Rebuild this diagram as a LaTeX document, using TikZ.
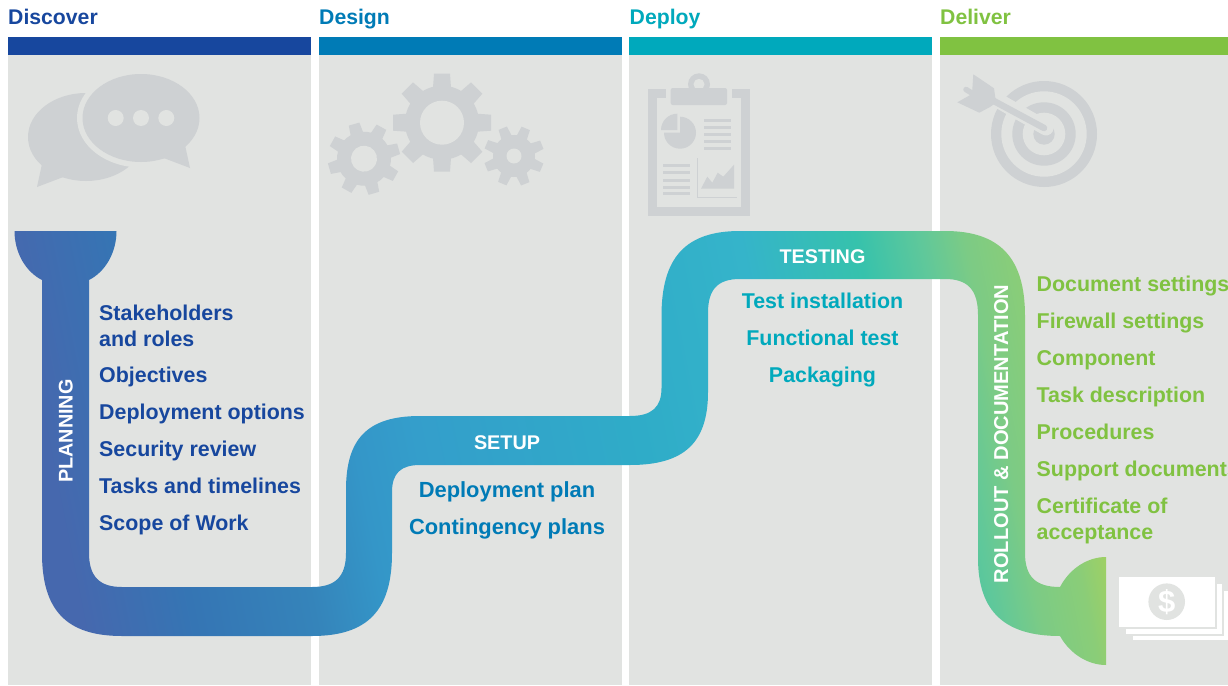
\documentclass[tikz,border=0pt]{standalone}
\usepackage{fontspec}
\setmainfont{Liberation Sans}
\definecolor{cdisc}{HTML}{17479E}
\definecolor{cdes}{HTML}{007BB6}
\definecolor{cdep}{HTML}{00A9BC}
\definecolor{cdel}{HTML}{80C241}
\definecolor{panelbg}{HTML}{E1E3E1}
\definecolor{icon}{HTML}{CED1D3}
\definecolor{ra}{HTML}{4668AE}
\definecolor{rc}{HTML}{3575B4}
\definecolor{rd}{HTML}{3584BA}
\definecolor{re}{HTML}{3496C8}
\definecolor{rf}{HTML}{349ECB}
\definecolor{rg}{HTML}{2FACC8}
\definecolor{rh}{HTML}{35B4CA}
\definecolor{ri}{HTML}{36C2AC}
\definecolor{rj}{HTML}{60C89A}
\definecolor{rk}{HTML}{7CCB85}
\definecolor{rl}{HTML}{8ACD78}
\definecolor{rm}{HTML}{9ED065}
\pgfdeclarehorizontalshading{ribbon}{100bp}{
color(0bp)=(ra);
color(36.95bp)=(ra);
color(39.84bp)=(rc);
color(43.0bp)=(rd);
color(44.89bp)=(re);
color(46.53bp)=(rf);
color(52.32bp)=(rg);
color(55.92bp)=(rh);
color(58.9bp)=(ri);
color(60.6bp)=(rj);
color(61.71bp)=(rk);
color(62.95bp)=(rl);
color(63.68bp)=(rm);
color(100bp)=(rm)}
\tikzset{
 head/.style={anchor=base west,inner sep=0pt,font=\bfseries\fontsize{21.2}{24}\selectfont},
 item/.style={anchor=base west,inner sep=0pt,font=\bfseries\fontsize{21.4}{24}\selectfont},
 citem/.style={anchor=base,inner sep=0pt,font=\bfseries\fontsize{21.4}{24}\selectfont},
 ditem/.style={anchor=base,inner sep=0pt,font=\bfseries\fontsize{21.9}{24}\selectfont},
 ribbontext/.style={inner sep=0pt,text=white,font=\bfseries\fontsize{19.8}{24}\selectfont},
 panel/.style={fill=panelbg,draw=none},
 ico/.style={fill=icon,draw=none},
 halo/.style={fill=panelbg,draw=none},
}
\newcommand{\gearicon}[6]{% x,y,hole,body,outer,toothwidth ; rotation via \gearrot
 \begin{scope}[shift={(#1,#2)},rotate=\gearrot]
  \fill[ico] (0,0) circle (#4);
  \foreach \a in {0,45,...,315}{
   \fill[ico,rotate=\a] (#4-2,-#6/2-1) -- (#5,-#6/2) -- (#5,#6/2) -- (#4-2,#6/2+1) -- cycle;
  }
  \fill[halo] (0,0) circle (#3);
 \end{scope}}
\begin{document}
\begin{tikzpicture}[x=1pt,y=-1pt]
\useasboundingbox (0,0) rectangle (1228,685);
\clip (0,0) rectangle (1228,685);
\fill[white] (0,0) rectangle (1228,685);
% panels
\fill[panel] (8,55) rectangle (311,685);
\fill[panel] (319,55) rectangle (622,685);
\fill[panel] (629,55) rectangle (932,685);
\fill[panel] (940,55) rectangle (1228,685);
\fill[cdisc] (8,37) rectangle (311,55);
\fill[cdes] (319,37) rectangle (622,55);
\fill[cdep] (629,37) rectangle (932,55);
\fill[cdel] (940,37) rectangle (1228,55);
% headers
\node[head,text=cdisc] (h1) at (8,25) {Discover};
\node[head,text=cdes] (h2) at (319,25) {Design};
\node[head,text=cdep] (h3) at (629.5,25) {Deploy};
\node[head,text=cdel] (h4) at (940,25) {Deliver};
% speech bubbles
\fill[ico] (86,137) ellipse (58 and 44);
\fill[ico] (42,164) -- (37,187) -- (66,176) -- cycle;
\fill[halo] (141,118) ellipse (64 and 49.5);
\fill[ico] (141,118) ellipse (58.5 and 44);
\fill[ico] (185,145) -- (190,168) -- (161,157) -- cycle;
\fill[halo] (115.7,118) circle (8);
\fill[halo] (141,118) circle (8);
\fill[halo] (166.3,118) circle (8);
% gears
\def\gearrot{0}\gearicon{442}{122.7}{22}{37}{49}{16}
\def\gearrot{16}\gearicon{364}{158.7}{13}{27}{36}{11}
\def\gearrot{22}\gearicon{514}{156}{7.5}{21}{30}{9}
% clipboard
\fill[ico] (647.7,89) rectangle (750,216);
\fill[halo] (656.7,98.3) rectangle (740.7,206.7);
\fill[halo] (665.7,85) rectangle (731.7,99);
\fill[ico] (699,84.3) circle (11);
\fill[halo] (699,84.3) circle (5.5);
\fill[ico,rounded corners=2pt] (670.7,88) rectangle (727,105);
\fill[ico] (680,132.7) -- (680,116.7) arc[start angle=-90,end angle=180,radius=16] -- cycle;
\fill[ico] (677.3,130) -- (661,130) arc[start angle=180,end angle=270,radius=16.3] -- cycle;
\foreach \yy in {120.3,127.3,134.3,141.3,148.3}{\fill[ico] (704,\yy-1.5) rectangle (731,\yy+1.5);}
\foreach \yy in {165.3,172.3,180.3,187.3,193.3}{\fill[ico] (663,\yy-1.5) rectangle (690,\yy+1.5);}
\fill[ico] (697.2,158) rectangle (698.4,197.8);
\fill[ico] (697.2,196.6) rectangle (737,197.8);
\fill[ico] (701,188.7) -- (707.3,176.7) -- (712.3,182.7) -- (717.7,172.7) -- (723.3,176.7) -- (734,164.7) -- (734,188.7) -- cycle;
% target
\fill[ico] (1044,134) circle (53);
\fill[halo] (1044,134) circle (42.7);
\fill[ico] (1044,134) circle (31.7);
\fill[halo] (1044,134) circle (21.3);
\fill[ico] (1044,134) circle (10.7);
\draw[panelbg,line width=15pt,line cap=round] (1046,128) -- (990,96);
\draw[icon,line width=6.5pt,line cap=round] (1044,128) -- (992,100);
\fill[ico] (973.3,74.3) -- (994,88.3) -- (996,102.7) -- (990,107) -- (979.3,112.7) -- (957.3,102.3) -- (972,94) -- cycle;
\draw[icon,line width=5.5pt,line cap=round] (966,89.5) -- (975,95);
% money
\fill[white] (1133.3,590.7) rectangle (1240,640.3);
\fill[halo] (1124,582) rectangle (1223.7,636);
\fill[white] (1126.3,584) rectangle (1221.7,634);
\fill[halo] (1117,574) rectangle (1216.7,629);
\fill[white] (1119.3,576.7) rectangle (1215,626.7);
\fill[halo] (1166.7,601.7) circle (18.3);
\node[inner sep=0pt,text=white,font=\bfseries\fontsize{31}{34}\selectfont] (dollar) at (1166.7,601.7) {\$};
% ribbon
\begin{scope}
\clip
 (14.5,231) -- (116.5,231)
 .. controls (116.5,253) and (105,272) .. (89,280)
 -- (89,553)
 .. controls (89,577) and (100,587) .. (122,587)
 -- (312,587)
 .. controls (335,587) and (346,577) .. (346,553)
 -- (346,490)
 .. controls (346,440) and (366,416) .. (420,416)
 -- (630,416)
 .. controls (652,416) and (661.5,407) .. (661.5,388)
 -- (661.5,316)
 .. controls (661.5,258) and (685,231) .. (740,231)
 -- (945,231)
 .. controls (1000,231) and (1025,258) .. (1025,316)
 -- (1025,553)
 .. controls (1025,577) and (1036,587) .. (1060,587)
 .. controls (1070,568) and (1088,557) .. (1106,557)
 -- (1106,665)
 .. controls (1088,665) and (1070,654) .. (1060,636)
 .. controls (1005,636) and (978,612) .. (978,558)
 -- (978,315)
 .. controls (978,290) and (968,279) .. (945,279)
 -- (740,279)
 .. controls (717,279) and (708,290) .. (708,313)
 -- (708,392)
 .. controls (708,442) and (685,465) .. (630,465)
 -- (420,465)
 .. controls (401,465) and (392,473) .. (392,492)
 -- (392,553)
 .. controls (392,610) and (368,636) .. (312,636)
 -- (122,636)
 .. controls (66,636) and (42,610) .. (42,553)
 -- (42,280)
 .. controls (26,272) and (14.5,253) .. (14.5,231)
 -- cycle;
\path[shading=ribbon,shading angle=0,transform canvas={rotate around={11.3:(600,430)}}] (-400,-600) rectangle (1500,1400);
\end{scope}
% ribbon labels
\node[ribbontext,rotate=90,anchor=base] (planning) at (72.5,431) {PLANNING};
\node[ribbontext,anchor=base] (setup) at (507,449) {SETUP};
\node[ribbontext,anchor=base] (testing) at (822.5,263) {TESTING};
\node[ribbontext,rotate=90,anchor=base,font=\bfseries\fontsize{20.1}{24}\selectfont] (rollout) at (1008,434) {ROLLOUT \& DOCUMENTATION};
% discover items
\node[item,text=cdisc] (d1) at (99,320) {Stakeholders};
\node[item,text=cdisc] (d2) at (99,346) {and roles};
\node[item,text=cdisc] (d3) at (99,382) {Objectives};
\node[item,text=cdisc] (d4) at (99,419) {Deployment options};
\node[item,text=cdisc] (d5) at (99,456) {Security review};
\node[item,text=cdisc] (d6) at (99,493) {Tasks and timelines};
\node[item,text=cdisc] (d7) at (99,530) {Scope of Work};
% design items
\node[ditem,text=cdes] (e1) at (507,497) {Deployment plan};
\node[ditem,text=cdes] (e2) at (507,534) {Contingency plans};
% deploy items
\node[citem,text=cdep] (p1) at (822.5,308) {Test installation};
\node[citem,text=cdep] (p2) at (822.5,345) {Functional test};
\node[citem,text=cdep] (p3) at (822.5,382) {Packaging};
% deliver items
\node[item,text=cdel] (v1) at (1036.5,291) {Document settings};
\node[item,text=cdel] (v2) at (1036.5,328) {Firewall settings};
\node[item,text=cdel] (v3) at (1036.5,365) {Component};
\node[item,text=cdel] (v4) at (1036.5,402) {Task description};
\node[item,text=cdel] (v5) at (1036.5,439) {Procedures};
\node[item,text=cdel] (v6) at (1036.5,476) {Support documents};
\node[item,text=cdel] (v7) at (1036.5,513) {Certificate of};
\node[item,text=cdel] (v8) at (1036.5,539) {acceptance};
\end{tikzpicture}
\end{document}
